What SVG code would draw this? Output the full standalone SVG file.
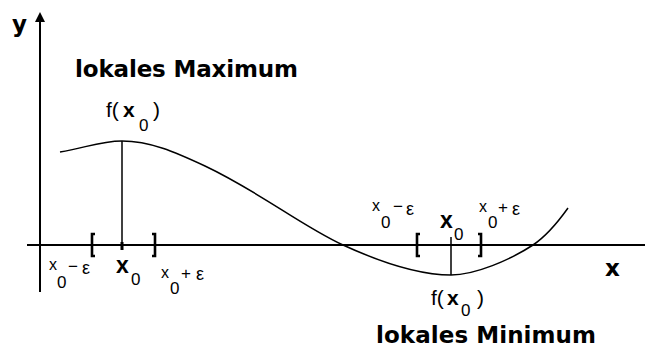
<svg xmlns="http://www.w3.org/2000/svg" width="645" height="347" viewBox="0 0 645 347">
<style>
.ax{stroke:#000;stroke-width:2;fill:none}
.ln{stroke:#000;stroke-width:1.5;fill:none}
.br{stroke:#000;stroke-width:2.6;fill:none}
.big{font-family:"DejaVu Sans",sans-serif;font-weight:bold;font-size:23px;fill:#000}
.bx{font-family:"Liberation Sans",sans-serif;font-weight:bold;font-size:23px;fill:#000}
.sm{font-family:"Liberation Sans",sans-serif;font-size:16px;fill:#000}
.sub{font-family:"Liberation Sans",sans-serif;font-size:17px;fill:#000}
.ep{font-family:"Liberation Sans",sans-serif;font-size:18px;fill:#000}
.f{font-family:"Liberation Sans",sans-serif;font-size:21px;fill:#000}
</style>
<rect width="645" height="347" fill="#fff"/>
<g id="axes">
<line class="ax" x1="40" y1="20" x2="40" y2="292"/>
<polygon points="40,12 35,22 45,22" fill="#000"/>
<line class="ax" x1="27" y1="245" x2="645" y2="245"/>
<text class="big" x="12" y="32">y</text>
<text class="big" x="605" y="276">x</text>
</g>
<g id="curve">
<path class="ln" d="M60,152 C85,148 100,141 122,141 C150,141 175,152 205,166 C260,192 300,225 343,245 C380,262 420,275 451,275 C475,275 510,260 533,245 C545,237 558,222 568,208"/>
</g>
<g id="maximum">
<text class="big" x="75" y="77" textLength="223">lokales Maximum</text>
<line class="ln" x1="122" y1="141" x2="122" y2="245"/>
<line x1="122" y1="242" x2="122" y2="250" stroke="#000" stroke-width="3"/>
<text class="f" x="106" y="117">f(</text>
<text class="f" x="123" y="117" font-weight="bold">x</text>
<text class="sub" x="139" y="131">0</text>
<text class="f" x="153" y="117">)</text>
<path class="br" d="M95,234 H92 V256 H95"/>
<path class="br" d="M152,234 H155 V256 H152"/>
<text class="sm" x="49" y="270">x</text>
<text class="sub" x="57" y="288">0</text>
<text class="sub" x="68" y="272">−</text>
<text class="ep" x="82" y="274">ε</text>
<text class="bx" x="116" y="273">x</text>
<text class="sub" x="131" y="285">0</text>
<text class="sm" x="161" y="278">x</text>
<text class="sub" x="170" y="294">0</text>
<text class="sub" x="181" y="279">+</text>
<text class="ep" x="196" y="280">ε</text>
</g>
<g id="minimum">
<text class="big" x="376" y="343" textLength="220">lokales Minimum</text>
<line class="ln" x1="451" y1="237" x2="451" y2="275"/>
<text class="f" x="431" y="305">f(</text>
<text class="f" x="447" y="305" font-weight="bold">x</text>
<text class="sub" x="461" y="316" font-size="15">0</text>
<text class="f" x="477" y="305">)</text>
<path class="br" d="M420,234 H417 V256 H420"/>
<path class="br" d="M478,234 H481 V256 H478"/>
<text class="sm" x="372" y="211">x</text>
<text class="sub" x="381" y="228">0</text>
<text class="sub" x="393" y="212">−</text>
<text class="ep" x="406" y="215">ε</text>
<text class="bx" x="440" y="228">x</text>
<text class="sub" x="454" y="240">0</text>
<text class="sm" x="479" y="212">x</text>
<text class="sub" x="488" y="228">0</text>
<text class="sub" x="498" y="213">+</text>
<text class="ep" x="512" y="215">ε</text>
</g>
</svg>
